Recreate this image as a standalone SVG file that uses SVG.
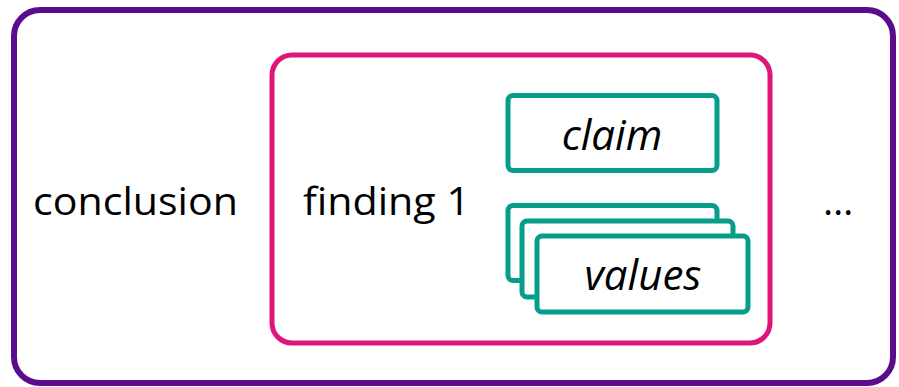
<svg xmlns="http://www.w3.org/2000/svg" width="899" height="387" viewBox="0 0 899 387">
  <style>
    .outer { fill: #ffffff; stroke: #5a0c8c; stroke-width: 6; }
    .finding { fill: #ffffff; stroke: #e0157a; stroke-width: 5; }
    .item { fill: #ffffff; stroke: #079d8b; stroke-width: 5; }
    .lbl { font-family: "Open Sans", "Liberation Sans", sans-serif; font-size: 39px; fill: #000000; }
    .it { font-style: italic; text-anchor: middle; font-size: 42px; }
  </style>
  <g id="conclusion">
    <rect class="outer" x="14" y="10" width="879" height="373" rx="26"/>
    <text class="lbl" x="33" y="215" textLength="205" lengthAdjust="spacingAndGlyphs">conclusion</text>
    <text class="lbl" x="823" y="215">…</text>
  </g>
  <g id="finding1">
    <rect class="finding" x="272" y="55" width="498" height="288" rx="20"/>
    <text class="lbl" x="303" y="215" textLength="167" lengthAdjust="spacingAndGlyphs">finding 1</text>
  </g>
  <g id="claim">
    <rect class="item" x="508" y="95.5" width="209" height="75" rx="5"/>
    <text class="lbl it" x="612" y="150">claim</text>
  </g>
  <g id="values">
    <rect class="item" x="508" y="205.5" width="209" height="75" rx="5"/>
    <rect class="item" x="522" y="221" width="211" height="76" rx="5"/>
    <rect class="item" x="537" y="236" width="211" height="76" rx="5"/>
    <text class="lbl it" x="643" y="290">values</text>
  </g>
  <g id="connectors"/>
</svg>
